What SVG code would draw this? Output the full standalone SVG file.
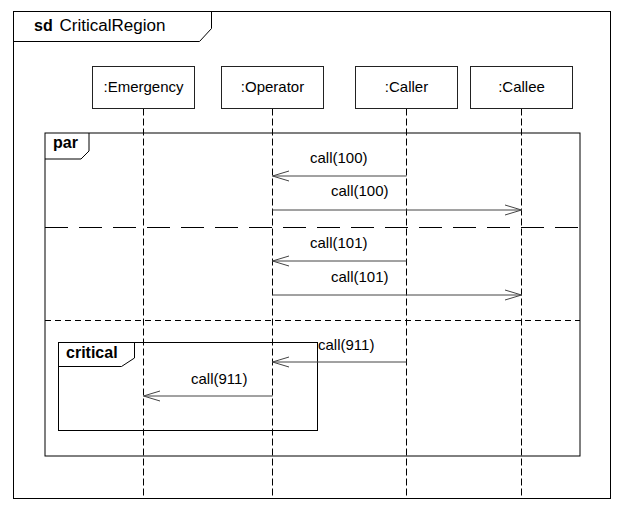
<svg xmlns="http://www.w3.org/2000/svg" width="623" height="509" viewBox="0 0 623 509">
<style>
text{font-family:"Liberation Sans",Arial,sans-serif;fill:#000}
.lbl{font-size:15px}
.b{font-weight:bold;font-size:16px}
.box{fill:#fff;stroke:#222;stroke-width:1}
.life{stroke:#000;stroke-width:1;stroke-dasharray:7 3;fill:none}
.frame{fill:none;stroke:#000;stroke-width:1}
.msg{stroke:#444;stroke-width:1;fill:none}
.head{stroke:#444;stroke-width:1;fill:none}
</style>
<rect x="0" y="0" width="623" height="509" fill="#fff"/>
<g id="frame-sd">
<rect class="frame" x="13.5" y="11.5" width="597" height="487"/>
<path class="frame" d="M13.5 41.5 H199.5 L211.5 28.5 V11.5"/>
<text x="34" y="31" class="b">sd</text>
<text x="59.5" y="31" font-size="16" textLength="106" lengthAdjust="spacingAndGlyphs">CriticalRegion</text>
</g>
<g id="lifelines">
<g id="emergency">
<line class="life" x1="143.5" y1="108.5" x2="143.5" y2="498"/>
<rect class="box" x="92.5" y="66.5" width="102" height="42"/>
<text class="lbl" x="143.5" y="92" text-anchor="middle">:Emergency</text>
</g>
<g id="operator">
<line class="life" x1="272.5" y1="108.5" x2="272.5" y2="498"/>
<rect class="box" x="221.5" y="66.5" width="102" height="42"/>
<text class="lbl" x="272.5" y="92" text-anchor="middle">:Operator</text>
</g>
<g id="caller">
<line class="life" x1="406.5" y1="108.5" x2="406.5" y2="498"/>
<rect class="box" x="355.5" y="66.5" width="102" height="42"/>
<text class="lbl" x="406.5" y="92" text-anchor="middle">:Caller</text>
</g>
<g id="callee">
<line class="life" x1="521.5" y1="108.5" x2="521.5" y2="498"/>
<rect class="box" x="470.5" y="66.5" width="102" height="42"/>
<text class="lbl" x="521.5" y="92" text-anchor="middle">:Callee</text>
</g>
</g>
<g id="par">
<rect class="frame" x="45" y="133" width="535" height="323"/>
<path class="frame" d="M45 159 H81 L89 151 V133"/>
<text x="53" y="148" class="b">par</text>
<line x1="45" y1="227.5" x2="580" y2="227.5" stroke="#000" stroke-width="1" stroke-dasharray="23 11"/>
<line x1="45" y1="320.5" x2="580" y2="320.5" stroke="#000" stroke-width="1" stroke-dasharray="6 4"/>
</g>
<g id="critical">
<rect class="frame" x="58.5" y="342.5" width="259" height="88"/>
<path class="frame" d="M58.5 366.5 H121.5 L134.5 358 V342.5"/>
<text x="66" y="358" class="b">critical</text>
</g>
<g id="connectors">
<line class="msg" x1="406.5" y1="176" x2="272.5" y2="176"/>
<path class="head" d="M289 171 L272.5 176 L289 181"/>
<text class="lbl" x="310" y="163">call(100)</text>
<line class="msg" x1="272.5" y1="210" x2="521.5" y2="210"/>
<path class="head" d="M505 205 L521.5 210 L505 215"/>
<text class="lbl" x="331" y="196">call(100)</text>
<line class="msg" x1="406.5" y1="261" x2="272.5" y2="261"/>
<path class="head" d="M289 256 L272.5 261 L289 266"/>
<text class="lbl" x="310" y="248">call(101)</text>
<line class="msg" x1="272.5" y1="295" x2="521.5" y2="295"/>
<path class="head" d="M505 290 L521.5 295 L505 300"/>
<text class="lbl" x="331" y="282">call(101)</text>
<line class="msg" x1="406.5" y1="362" x2="272.5" y2="362"/>
<path class="head" d="M289 357 L272.5 362 L289 367"/>
<text class="lbl" x="318" y="350">call(911)</text>
<line class="msg" x1="272.5" y1="396" x2="143.5" y2="396"/>
<path class="head" d="M160 391 L143.5 396 L160 401"/>
<text class="lbl" x="191" y="384">call(911)</text>
</g>
</svg>
